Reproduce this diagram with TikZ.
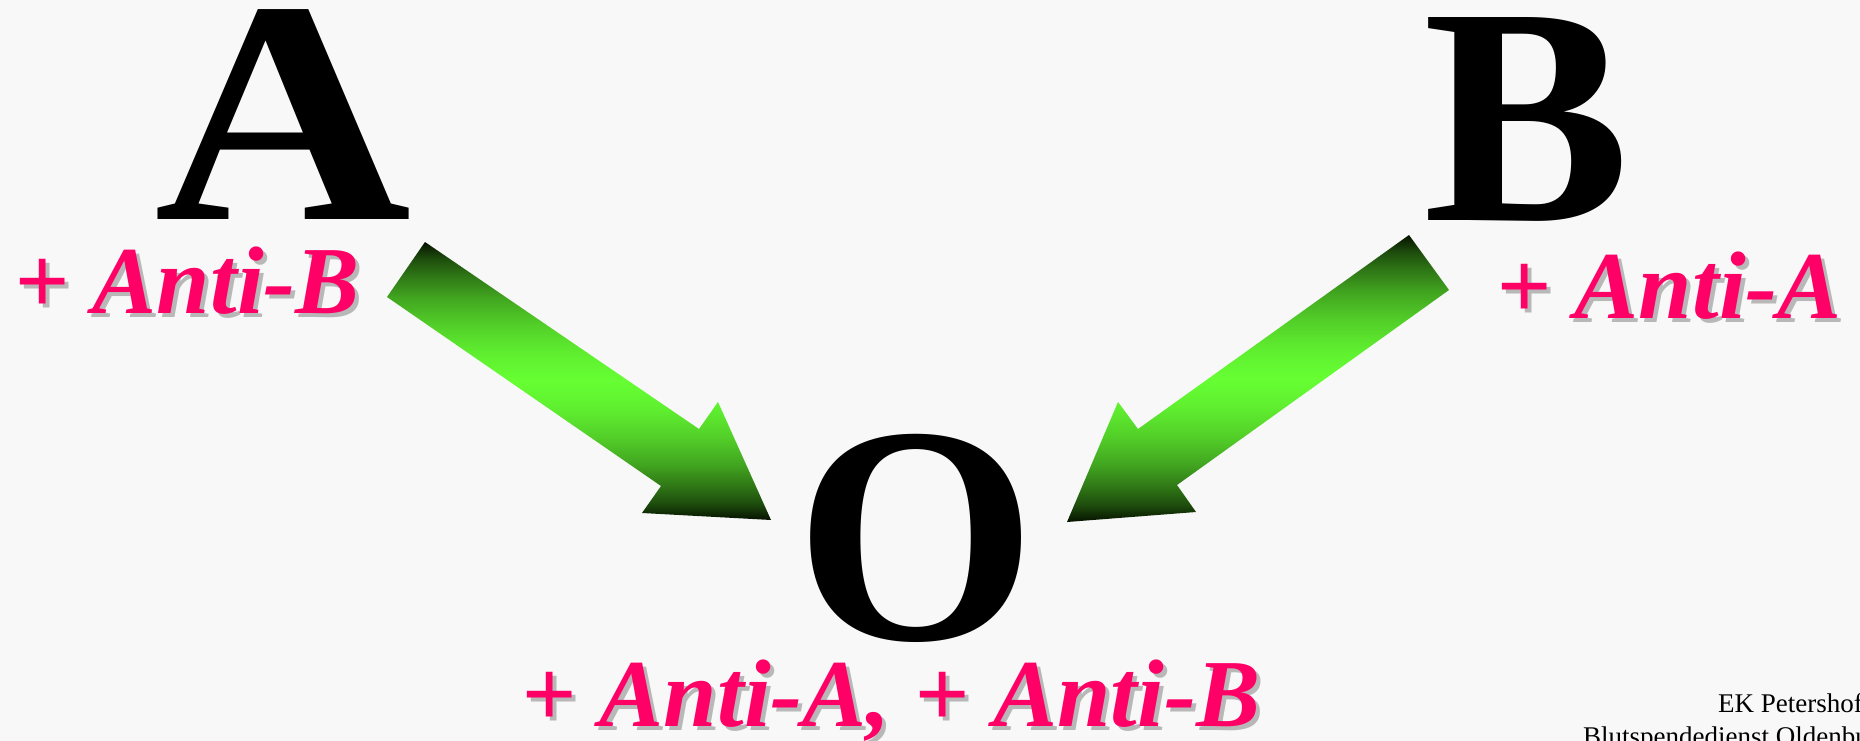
\documentclass[tikz,border=0pt]{standalone}
\usepackage{fontspec}
\setmainfont{Liberation Serif}
\definecolor{bg}{HTML}{F8F8F8}
\definecolor{pinkc}{HTML}{FF0066}
\definecolor{shad}{HTML}{B8B8B8}
\definecolor{adark}{HTML}{061200}
\definecolor{agreen}{HTML}{66FF33}
\colorlet{gA}{agreen!25!adark}
\colorlet{gB}{agreen!42!adark}
\colorlet{gC}{agreen!62!adark}
\colorlet{gD}{agreen!80!adark}
\colorlet{gE}{agreen!93!adark}
\pgfdeclareverticalshading{arrowshade}{100bp}{color(0bp)=(adark); color(25bp)=(adark); color(28bp)=(gA); color(31bp)=(gB); color(35bp)=(gC); color(40bp)=(gD); color(45bp)=(gE); color(50bp)=(agreen); color(55bp)=(gE); color(60bp)=(gD); color(65bp)=(gC); color(69bp)=(gB); color(72bp)=(gA); color(75bp)=(adark); color(100bp)=(adark)}
\begin{document}
\begin{tikzpicture}[x=1pt,y=-1pt,
  big/.style={font=\fontsize{310}{310}\selectfont\bfseries, inner sep=0pt, anchor=base},
  lbl/.style={font=\fontsize{96}{96}\selectfont\bfseries\itshape, text=pinkc, inner sep=0pt, anchor=base west},
  lblshadow/.style={lbl, text=shad},
  blockarrow/.style={shading=arrowshade, draw=none},
  credit/.style={font=\fontsize{27}{27}\selectfont, inner sep=0pt, anchor=base west}]
\fill[bg] (0,0) rectangle (1860,741);
\useasboundingbox (0,0) rectangle (1860,741);
\clip (0,0) rectangle (1860,741);

% big letters
\node[big, font=\fontsize{318}{318}\selectfont\bfseries] (A) at (283,219) {\scalebox{1.12}[1]{A}};
\node[big] (B) at (1527,220) {B};
\node[big] (O) at (916,639) {O};

% green block arrows
\shade[blockarrow] (425,242) -- (699,429) -- (718,402) -- (771,520) -- (642,513) -- (661,486) -- (387,297) -- cycle;
\shade[blockarrow] (1409,235) -- (1449,290) -- (1177,485) -- (1196,512) -- (1067,522) -- (1118,402) -- (1138,429) -- cycle;

% labels with shadows
\node[lblshadow] at (18,317) {+ Anti-B};
\node[lbl] (lA) at (14,313) {+ Anti-B};
\node[lblshadow] at (1500,322) {+ Anti-A};
\node[lbl] (lB) at (1496,318) {+ Anti-A};
\node[lblshadow] at (525,730) {+ Anti-A, + Anti-B};
\node[lbl] (lO) at (521,726) {+ Anti-A, + Anti-B};

% credit
\node[credit] (c1) at (1718,712) {EK Petershof};
\node[credit] (c2) at (1583,745) {Blutspendedienst Oldenbu};
\end{tikzpicture}
\end{document}
